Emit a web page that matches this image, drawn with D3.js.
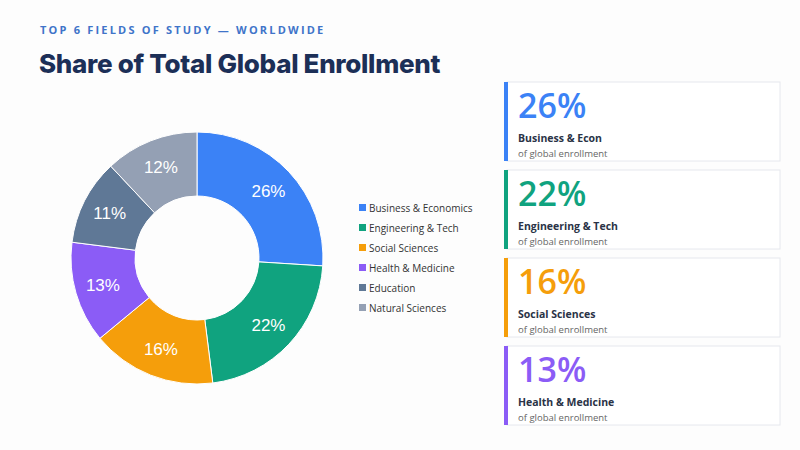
<!DOCTYPE html>
<html>
<head>
<meta charset="UTF-8" />
<script src="https://d3js.org/d3.v7.min.js"></script>
<style>
  body { margin: 0; background: #fdfdfd; }
  svg { display: block; }
</style>
</head>
<body>
<svg></svg>
<script>
  // Data
  const fields = ["Business & Economics", "Engineering & Tech", "Social Sciences", "Health & Medicine", "Education", "Natural Sciences"];
  const shares = [26, 22, 16, 13, 11, 12];
  const colors = ["#3b82f6", "#10a37f", "#f59e0b", "#8b5cf6", "#5f7896", "#94a0b4"];
  const cardLabels = ["Business & Econ", "Engineering & Tech", "Social Sciences", "Health & Medicine"];

  let width = 800, height = 450;
  let svg = d3.select("svg").attr("width", width).attr("height", height);

  svg.append("text").attr("x", 40).attr("y", 34)
    .style("font-family", "Open Sans").style("font-size", "11px").style("font-weight", 700)
    .style("letter-spacing", "2.2px").attr("fill", "#3f74c9")
    .text("TOP 6 FIELDS OF STUDY — WORLDWIDE");
  svg.append("text").attr("x", 39).attr("y", 73)
    .style("font-family", "Inter").style("font-size", "26px").style("font-weight", 800)
    .style("letter-spacing", "-0.3px").attr("fill", "#1c2f57")
    .text("Share of Total Global Enrollment");

  // Donut
  const cx = 197, cy = 258, outerR = 126, innerR = 62;
  const pie = d3.pie().sort(null).value((d) => d);
  const arc = d3.arc().innerRadius(innerR).outerRadius(outerR);
  const labelArc = d3.arc().innerRadius(98).outerRadius(98);
  const arcs = pie(shares);
  const g = svg.append("g").attr("transform", "translate(" + cx + "," + cy + ")");
  g.selectAll("path").data(arcs).enter().append("path")
    .attr("d", arc).attr("fill", (d, i) => colors[i])
    .attr("stroke", "#fff").attr("stroke-width", 1);
  g.selectAll("text").data(arcs).enter().append("text")
    .attr("transform", (d) => "translate(" + labelArc.centroid(d) + ")")
    .attr("text-anchor", "middle").attr("dy", "0.35em")
    .style("font-family", "Liberation Sans, Arial").style("font-size", "17px")
    .attr("fill", "#fff").text((d) => d.data + "%");

  // Legend
  const lg = svg.append("g").attr("transform", "translate(359,208)");
  fields.forEach((f, i) => {
    const row = lg.append("g").attr("transform", "translate(0," + i * 20 + ")");
    row.append("rect").attr("x", 0).attr("y", -4).attr("width", 7).attr("height", 7).attr("fill", colors[i]);
    row.append("text").attr("x", 10).attr("y", 0).attr("dy", "0.35em")
      .style("font-family", "Open Sans").style("font-size", "10px").attr("fill", "#333").text(f);
  });

  // Cards
  cardLabels.forEach((lab, i) => {
    const y0 = 82 + i * 88;
    const c = svg.append("g").attr("transform", "translate(504," + y0 + ")");
    c.append("rect").attr("x", 3).attr("y", 0).attr("width", 273).attr("height", 79)
      .attr("fill", "#fff").attr("stroke", "#e6e8ee");
    c.append("rect").attr("x", 0).attr("y", 0).attr("width", 4).attr("height", 79).attr("fill", colors[i]);
    c.append("text").attr("x", 14).attr("y", 36)
      .style("font-family", "Open Sans").style("font-size", "34px").style("font-weight", 600)
      .attr("fill", colors[i]).text(shares[i] + "%");
    c.append("text").attr("x", 14).attr("y", 60)
      .style("font-family", "Open Sans").style("font-size", "10.5px").style("font-weight", 700)
      .attr("fill", "#2a3346").text(lab);
    c.append("text").attr("x", 14).attr("y", 75)
      .style("font-family", "Open Sans").style("font-size", "9.5px")
      .attr("fill", "#666").text("of global enrollment");
  });
</script>
</body>
</html>
